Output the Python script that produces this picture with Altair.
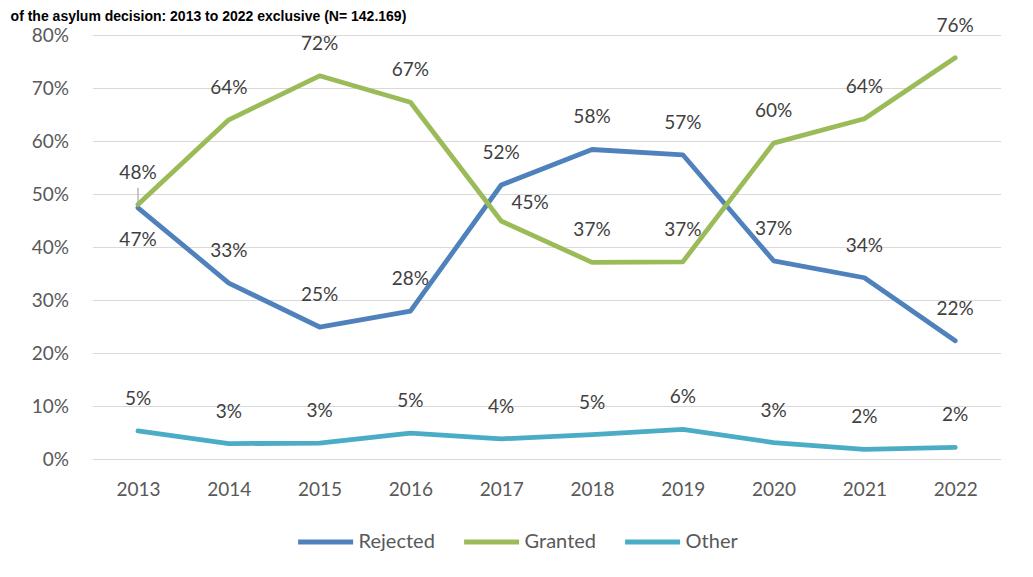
import altair as alt
import pandas as pd

years = ["2013", "2014", "2015", "2016", "2017", "2018", "2019", "2020", "2021", "2022"]
series_names = ["Rejected", "Granted", "Other"]
rejected = [0.474, 0.332, 0.249, 0.279, 0.517, 0.584, 0.574, 0.374, 0.342, 0.223]
granted = [0.480, 0.640, 0.723, 0.673, 0.449, 0.371, 0.372, 0.596, 0.642, 0.757]
other = [0.053, 0.029, 0.030, 0.049, 0.038, 0.046, 0.056, 0.031, 0.018, 0.022]
colors = ["#4F81BD", "#9BBB59", "#4BACC6"]
title_text = "of the asylum decision: 2013 to 2022 exclusive (N= 142.169)"

rows = []
for name, vals in zip(series_names, [rejected, granted, other]):
    for y, v in zip(years, vals):
        rows.append({"year": y, "series": name, "value": v})
df = pd.DataFrame(rows)

FONT = "Lato"
W, H = 908, 424

base = alt.Chart(df)

x = alt.X("year:N", sort=years,
          scale=alt.Scale(type="point", padding=0.5),
          axis=alt.Axis(title=None, labelAngle=0, ticks=False, labelPadding=21,
                        labelFontSize=19, labelColor="#595959", labelFont=FONT,
                        domainColor="#D9D9D9", domainWidth=1, grid=False))
y = alt.Y("value:Q", scale=alt.Scale(domain=[0, 0.8], nice=False),
          axis=alt.Axis(title=None, format=".0%", values=[0, 0.1, 0.2, 0.3, 0.4, 0.5, 0.6, 0.7, 0.8],
                        ticks=False, domain=False, labelPadding=24, labelFontSize=19,
                        labelColor="#595959", labelFont=FONT, gridColor="#D9D9D9", gridWidth=1))

lines = base.mark_line(strokeWidth=4.8, strokeCap="round", strokeJoin="round").encode(
    x=x, y=y,
    color=alt.Color("series:N", sort=series_names,
                    scale=alt.Scale(domain=series_names, range=colors),
                    legend=alt.Legend(title=None, orient="none", legendX=203, legendY=497,
                                      direction="horizontal", symbolType="stroke",
                                      symbolSize=3025, symbolStrokeWidth=5, clipHeight=20,
                                      labelFontSize=20, labelFont=FONT, labelColor="#595959",
                                      labelOffset=3, columnPadding=26)),
)

label_common = dict(fontSize=19, font=FONT, color="#404040", baseline="middle", align="center")
txt_enc = dict(x=alt.X("year:N", sort=years), y="value:Q",
               text=alt.Text("value:Q", format=".0%"))

is_r13 = "datum.series == 'Rejected' && datum.year == '2013'"
is_g17 = "datum.series == 'Granted' && datum.year == '2017'"

labels_main = base.transform_filter(f"!({is_r13}) && !({is_g17})").mark_text(dy=-32, **label_common).encode(**txt_enc)
labels_r13 = base.transform_filter(is_r13).mark_text(dy=32, **label_common).encode(**txt_enc)
labels_g17 = base.transform_filter(is_g17).mark_text(dx=29, dy=-18, **label_common).encode(**txt_enc)

leader = base.transform_filter("datum.series == 'Granted' && datum.year == '2013'").mark_rule(
    color="#A6A6A6", strokeWidth=1.2).encode(
    x=alt.X("year:N", sort=years), y="value:Q",
    y2=alt.Y2Datum(0.512))

title_layer = alt.Chart(pd.DataFrame({"t": [title_text]})).mark_text(
    align="left", baseline="alphabetic", fontSize=14, fontWeight="bold",
    font="Liberation Sans", color="black").encode(
    x=alt.value(-82), y=alt.value(-14), text="t:N")

chart = alt.layer(lines, leader, labels_main, labels_r13, labels_g17, title_layer).properties(
    width=W, height=H,
    background="white",
    autosize=alt.AutoSizeParams(type="none"),
    padding={"left": 84.6, "top": 27, "right": 24.4, "bottom": 110},
).configure_view(strokeWidth=0)

chart.save("out.html", embed_options={"renderer": "svg", "actions": False})
